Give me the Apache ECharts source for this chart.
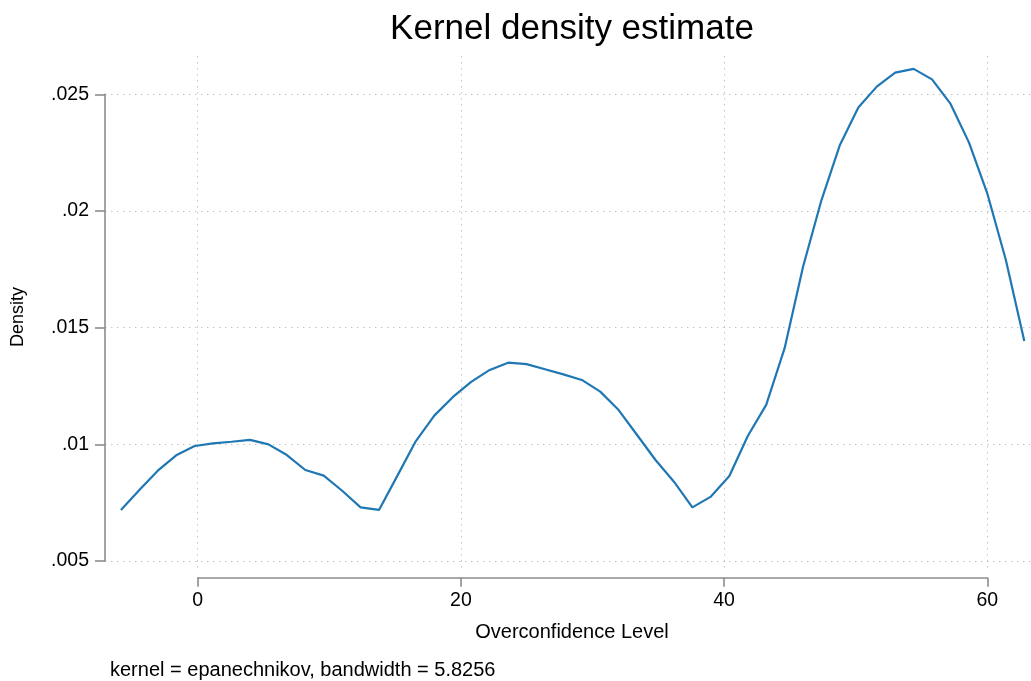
<!DOCTYPE html>
<html>
<head>
<meta charset="utf-8">
<script src="https://cdn.jsdelivr.net/npm/echarts@6/dist/echarts.min.js"></script>
<style>
  html, body { margin: 0; padding: 0; background: #ffffff; }
  #chart { width: 1031px; height: 681px; }
</style>
</head>
<body>
<div id="chart"></div>
<script>
// Evaluation points of the kernel density estimate (Overconfidence Level)
const xPoints = [
  -5.83, -4.43, -3.03, -1.63, -0.23, 1.17, 2.57, 3.98, 5.38, 6.78,
  8.18, 9.58, 10.98, 12.38, 13.78, 15.18, 16.58, 17.98, 19.38, 20.78,
  22.19, 23.59, 24.99, 26.39, 27.79, 29.19, 30.59, 31.99, 33.39, 34.79,
  36.19, 37.59, 39.00, 40.40, 41.80, 43.20, 44.60, 46.00, 47.40, 48.80,
  50.20, 51.60, 53.00, 54.40, 55.80, 57.21, 58.61, 60.01, 61.41, 62.81
];

// Estimated density at each evaluation point
const density = [
  0.00719, 0.00804, 0.00887, 0.00953, 0.00993, 0.01004, 0.01011, 0.01019, 0.01000, 0.00954,
  0.00890, 0.00866, 0.00801, 0.00730, 0.00719, 0.00866, 0.01014, 0.01123, 0.01202, 0.01268,
  0.01319, 0.01350, 0.01344, 0.01322, 0.01300, 0.01276, 0.01226, 0.01147, 0.01040, 0.00933,
  0.00840, 0.00730, 0.00776, 0.00864, 0.01036, 0.01169, 0.01412, 0.01761, 0.02047, 0.02283,
  0.02444, 0.02533, 0.02593, 0.02609, 0.02564, 0.02459, 0.02293, 0.02073, 0.01790, 0.01443
];

// Axis ticks and their printed labels
const xTicks = [0, 20, 40, 60];
const xTickLabels = ['0', '20', '40', '60'];
const yTicks = [0.005, 0.010, 0.015, 0.020, 0.025];
const yTickLabels = ['.005', '.01', '.015', '.02', '.025'];

const titleText = 'Kernel density estimate';
const xTitle = 'Overconfidence Level';
const yTitle = 'Density';
const noteText = 'kernel = epanechnikov, bandwidth = 5.8256';

const FONT = '"Liberation Sans", Arial, Helvetica, sans-serif';
const AXIS_GREY = '#8c8c8c';
const GRID_GREY = '#c4c4c4';
const LINE_BLUE = '#1f77b4';
const GRID_DOTS = { color: GRID_GREY, width: 1, type: [1.5, 4.5] };

function labelFor(ticks, labels) {
  return function (v) {
    for (let i = 0; i < ticks.length; i++) {
      if (Math.abs(ticks[i] - v) < 1e-9) return labels[i];
    }
    return '';
  };
}

const chart = echarts.init(document.getElementById('chart'), null, { renderer: 'canvas' });

const option = {
  backgroundColor: '#ffffff',
  animation: false,
  textStyle: { fontFamily: FONT },
  grid: [
    // 0: plot region holding the density curve
    { left: 105, right: 0, top: 56, bottom: 109 },
    // 1: vertical grid lines at the x ticks
    { left: 197.7, right: 43.7, top: 56, bottom: 109 },
    // 2: y axis with its horizontal grid lines, spanning only its tick range
    { left: 105, right: 0, top: 94.3, bottom: 120 },
    // 3: x axis line, set a little below the plot region
    { left: 197.7, right: 43.7, top: 56, bottom: 103.3 }
  ],
  xAxis: [
    { gridIndex: 0, type: 'value', min: -7.04, max: 63.32, show: false },
    {
      gridIndex: 1, type: 'value', min: 0, max: 60, interval: 20,
      axisLine: { show: false }, axisTick: { show: false }, axisLabel: { show: false },
      splitLine: { show: true, lineStyle: GRID_DOTS }
    },
    { gridIndex: 2, type: 'value', min: 0, max: 1, show: false },
    {
      gridIndex: 3, type: 'value', min: 0, max: 60, interval: 20,
      axisLine: { show: true, lineStyle: { color: AXIS_GREY, width: 1.6 } },
      axisTick: { show: true, length: 9, lineStyle: { color: AXIS_GREY, width: 1.6 } },
      axisLabel: {
        color: '#000', fontSize: 19.5, fontFamily: FONT, margin: 13,
        formatter: labelFor(xTicks, xTickLabels)
      },
      splitLine: { show: false }
    }
  ],
  yAxis: [
    { gridIndex: 0, type: 'value', min: 0.004529, max: 0.026643, show: false },
    { gridIndex: 1, type: 'value', min: 0, max: 1, show: false },
    {
      gridIndex: 2, type: 'value', min: 0.005, max: 0.025, interval: 0.005,
      axisLine: { show: true, lineStyle: { color: AXIS_GREY, width: 1.6 } },
      axisTick: { show: true, length: 10, lineStyle: { color: AXIS_GREY, width: 1.6 } },
      axisLabel: {
        color: '#000', fontSize: 19.5, fontFamily: FONT, margin: 16,
        formatter: labelFor(yTicks, yTickLabels)
      },
      splitLine: { show: true, lineStyle: GRID_DOTS }
    },
    { gridIndex: 3, type: 'value', min: 0, max: 1, show: false }
  ],
  series: [
    {
      type: 'line',
      xAxisIndex: 0,
      yAxisIndex: 0,
      data: xPoints.map((x, i) => [x, density[i]]),
      showSymbol: false,
      symbol: 'none',
      smooth: false,
      lineStyle: { color: LINE_BLUE, width: 2.2 },
      z: 10
    }
  ],
  graphic: [
    {
      type: 'text', x: 572, y: 29,
      style: {
        text: titleText, fill: '#000', font: '35px ' + FONT,
        textAlign: 'center', textVerticalAlign: 'middle'
      }
    },
    {
      type: 'text', x: 572, y: 632,
      style: {
        text: xTitle, fill: '#000', font: '20px ' + FONT,
        textAlign: 'center', textVerticalAlign: 'middle'
      }
    },
    {
      type: 'text', x: 18, y: 317, rotation: Math.PI / 2,
      style: {
        text: yTitle, fill: '#000', font: '18px ' + FONT,
        textAlign: 'center', textVerticalAlign: 'middle'
      }
    },
    {
      type: 'text', x: 110, y: 670,
      style: {
        text: noteText, fill: '#000', font: '20px ' + FONT,
        textAlign: 'left', textVerticalAlign: 'middle'
      }
    }
  ]
};

chart.setOption(option);
</script>
</body>
</html>
